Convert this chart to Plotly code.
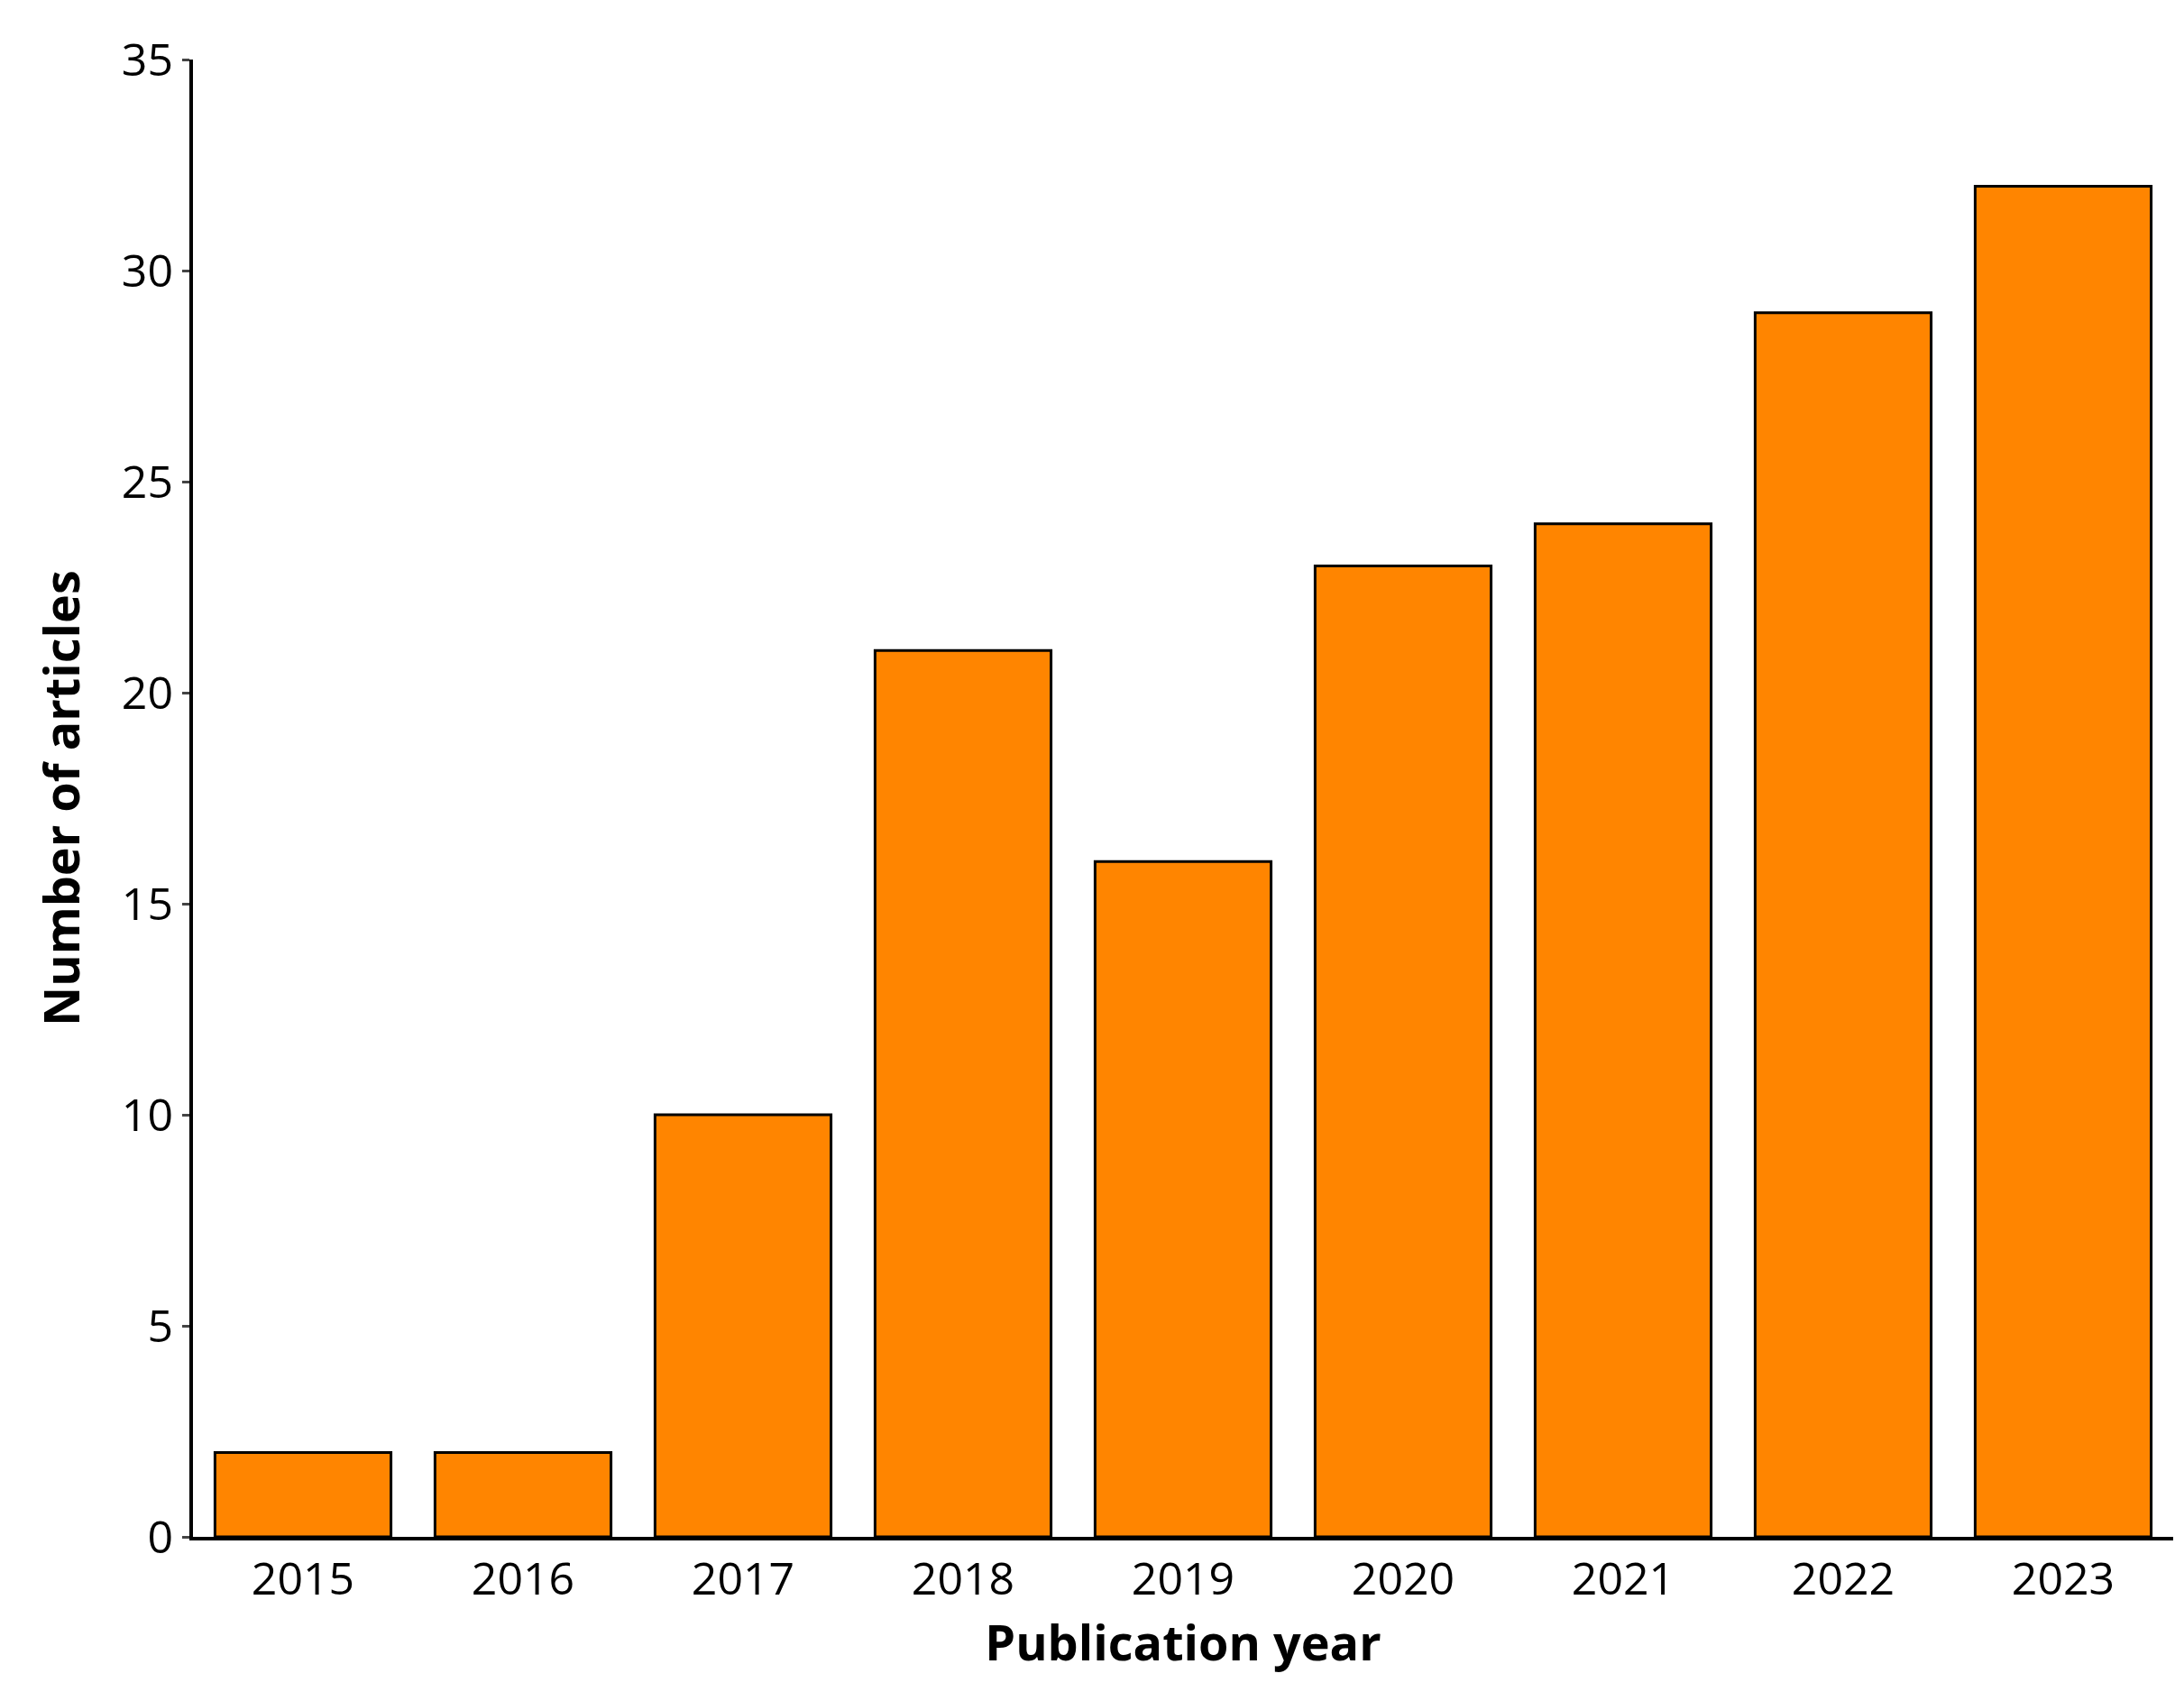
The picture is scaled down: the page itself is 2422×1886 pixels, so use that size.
import plotly.graph_objects as go

years = ["2015", "2016", "2017", "2018", "2019", "2020", "2021", "2022", "2023"]
articles = [2, 2, 10, 21, 16, 23, 24, 29, 32]

fig = go.Figure(
    go.Bar(
        x=years,
        y=articles,
        marker=dict(color="#FF8500", line=dict(color="black", width=3)),
    )
)
fig.update_layout(
    width=2422,
    height=1886,
    plot_bgcolor="white",
    paper_bgcolor="white",
    bargap=0.2,
    margin=dict(l=206, r=20, t=58, b=190),
    font=dict(family="Open Sans", size=50, color="black"),
    showlegend=False,
)
fig.update_xaxes(
    title=dict(text="<b>Publication year</b>", font=dict(size=54), standoff=20),
    showline=True,
    linecolor="black",
    linewidth=4,
    ticks="",
)
fig.update_yaxes(
    title=dict(text="<b>Number of articles</b>", font=dict(size=54), standoff=30),
    range=[0, 35],
    dtick=5,
    showgrid=False,
    showline=True,
    linecolor="black",
    linewidth=4,
    ticks="outside",
    ticklen=8,
    tickwidth=3,
    zeroline=False,
)
fig.write_html("out.html")
